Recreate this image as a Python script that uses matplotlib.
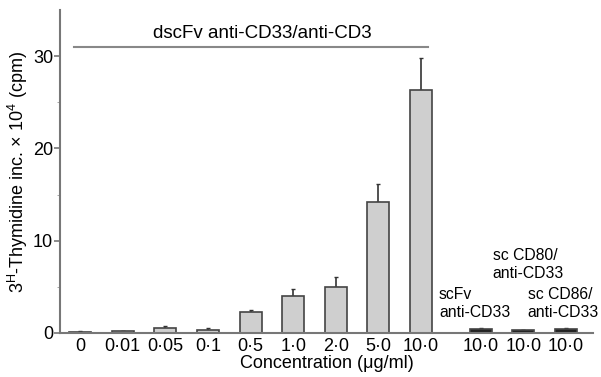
import numpy as np
import matplotlib.pyplot as plt

plt.rcParams['font.family'] = ['Liberation Sans', 'DejaVu Sans']

# data
labels = ['0', '0·01', '0·05', '0·1', '0·5', '1·0', '2·0', '5·0', '10·0',
          '10·0', '10·0', '10·0']
values = [0.15, 0.2, 0.5, 0.35, 2.3, 3.95, 5.0, 14.2, 26.3, 0.4, 0.3, 0.4]
errors = [0.02, 0.05, 0.25, 0.15, 0.15, 0.8, 1.1, 1.9, 3.5, 0.15, 0.05, 0.15]
positions = [0, 1, 2, 3, 4, 5, 6, 7, 8, 9.4, 10.4, 11.4]
control_labels = ['scFv\nanti-CD33', 'sc CD80/\nanti-CD33', 'sc CD86/\nanti-CD33']

fig = plt.figure(figsize=(6.01, 3.77), dpi=100)
ax = fig.add_axes([0.1, 0.117, 0.887, 0.856])

colors = ['#cfcfcf'] * 9 + ['#222222'] * 3
ax.bar(positions, values, width=0.52, color=colors, edgecolor='#444444',
       linewidth=1.2, zorder=2)
ax.errorbar(positions, values, yerr=[np.zeros(len(errors)), errors], fmt='none',
            ecolor='#333333', elinewidth=1.2, capsize=1.5, zorder=1)

# bracket over the dscFv series
ax.plot([-0.14, 8.17], [31.0, 31.0], color='#888888', lw=1.5)
ax.text(4.27, 32.5, 'dscFv anti-CD33/anti-CD3', ha='center', va='center', fontsize=13.5)

ax.text(8.42, 3.2, control_labels[0], ha='left', va='center', fontsize=11.3, linespacing=1.3)
ax.text(9.68, 7.4, control_labels[1], ha='left', va='center', fontsize=11.3, linespacing=1.3)
ax.text(10.5, 3.2, control_labels[2], ha='left', va='center', fontsize=11.3, linespacing=1.3)

ax.set_xlim(-0.47, 12.04)
ax.set_ylim(0, 35)
ax.set_xticks(positions)
ax.set_xticklabels(labels, fontsize=13)
ax.tick_params(axis='x', length=0, pad=4)
ax.set_yticks([0, 10, 20, 30])
ax.set_yticks([5, 15, 25], minor=True)
ax.tick_params(axis='y', labelsize=13, length=4, width=1.2, color='#777777', pad=1)
ax.tick_params(axis='y', which='minor', length=2, color='#999999')

for s in ['top', 'right']:
    ax.spines[s].set_visible(False)
for s in ['left', 'bottom']:
    ax.spines[s].set_color('#777777')
    ax.spines[s].set_linewidth(1.5)

ax.set_xlabel('Concentration (\u03bcg/ml)', fontsize=13, labelpad=0)
ax.set_ylabel('3$^{\\mathregular{H}}$-Thymidine inc. \u00d7 10$^{\\mathregular{4}}$ (cpm)',
              fontsize=13, labelpad=2)

fig.savefig('out.png', dpi=100)
